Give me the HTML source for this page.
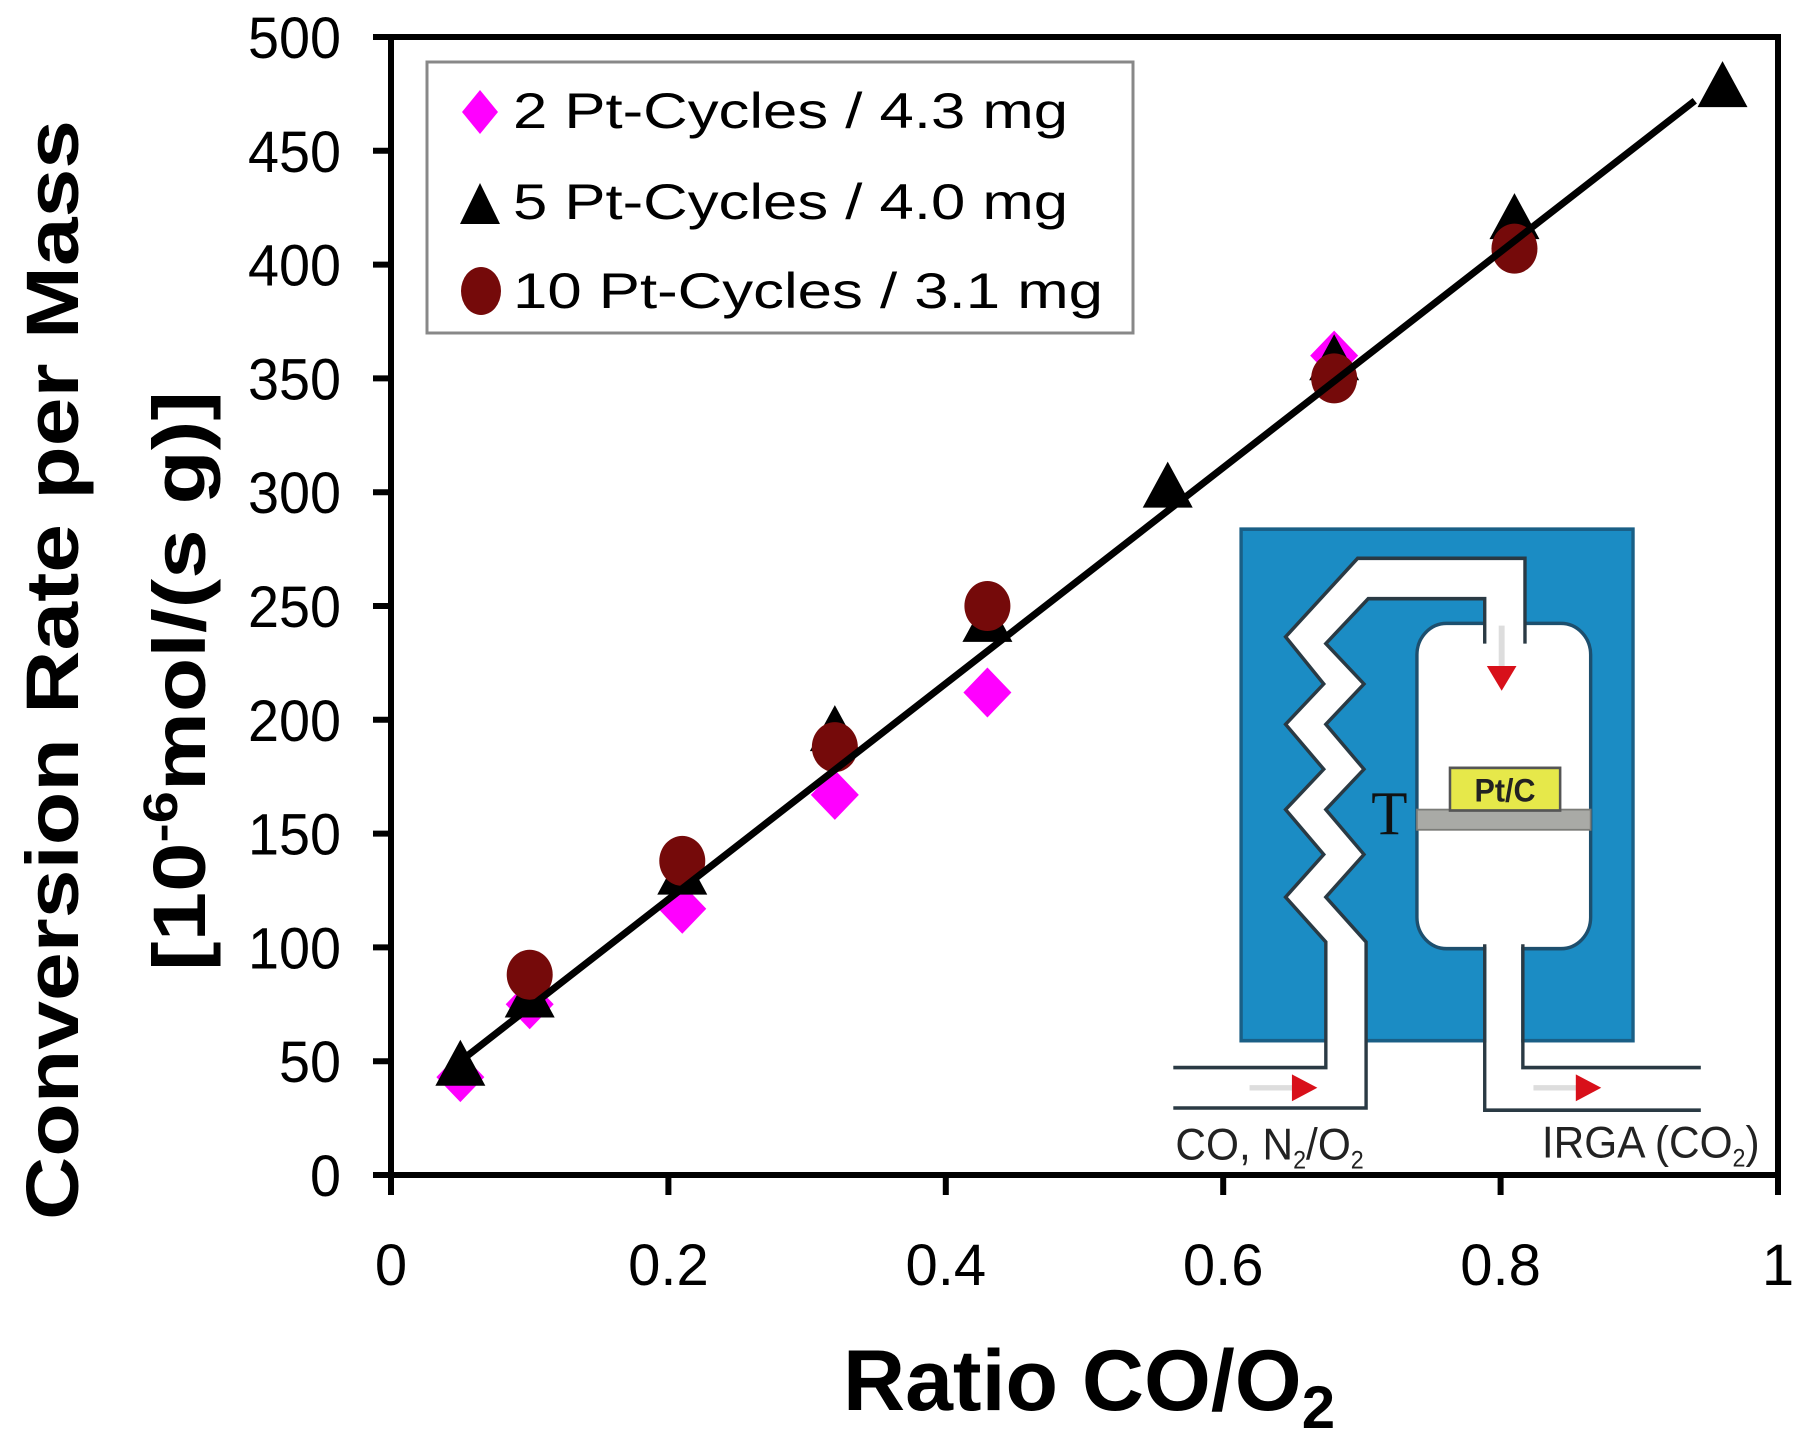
<!DOCTYPE html>
<html><head><meta charset="utf-8"><style>
html,body{margin:0;padding:0;background:#fff;}
svg{display:block;}
text{font-family:"Liberation Sans",Arial,sans-serif;}
</style></head><body>
<svg id="chart" width="1811" height="1436" viewBox="0 0 1811 1436" xmlns="http://www.w3.org/2000/svg">
<g id="inset" transform="translate(1150 500) scale(0.4237 0.4487)">
  <rect x="215" y="65" width="925" height="1140" fill="#1b8cc4" stroke="#1a5f86" stroke-width="8"/>
  <rect x="630" y="275" width="410" height="725" rx="70" fill="#fff" stroke="#1d4f6e" stroke-width="8"/>
  <path d="M415 1265 L415 985 L320 885 L410 790 L320 690 L410 600 L320 500 L410 410 L320 305 L490 130 L885 130 L885 320 L790 320 L790 220 L515 220 L415 320 L505 410 L415 500 L505 600 L415 690 L505 790 L415 885 L510 985 L510 1355 L55 1355 L55 1265 Z" fill="#fff" stroke="none"/>
  <polyline points="55,1265 415,1265 415,985 320,885 410,790 320,690 410,600 320,500 410,410 320,305 490,130 885,130 885,320" fill="none" stroke="#2a3a44" stroke-width="8"/>
  <polyline points="790,320 790,220 515,220 415,320 505,410 415,500 505,600 415,690 505,790 415,885 510,985 510,1355 55,1355" fill="none" stroke="#2a3a44" stroke-width="8"/>
  <rect x="794" y="990" width="82" height="370" fill="#fff"/>
  <polyline points="790,990 790,1360 1300,1360" fill="none" stroke="#2a3a44" stroke-width="8"/>
  <polyline points="880,990 880,1265 1300,1265" fill="none" stroke="#2a3a44" stroke-width="8"/>
  <rect x="630" y="690" width="410" height="45" fill="#a9aaa6" stroke="#7b7c78" stroke-width="4"/>
  <rect x="708" y="597" width="260" height="95" fill="#e6e84a" stroke="#555" stroke-width="6"/>
  <text x="838" y="672" font-size="72" font-weight="bold" text-anchor="middle" fill="#222">Pt/C</text>
  <text x="565" y="745" font-size="140" text-anchor="middle" fill="#111" style="font-family:'Liberation Serif',serif">T</text>
  <line x1="830" y1="280" x2="830" y2="370" stroke="#ddd" stroke-width="14"/>
  <polygon points="795,370 865,370 830,425" fill="#d8101a"/>
  <line x1="235" y1="1310" x2="340" y2="1310" stroke="#ddd" stroke-width="12"/>
  <polygon points="335,1280 395,1310 335,1340" fill="#d8101a"/>
  <line x1="905" y1="1310" x2="1010" y2="1310" stroke="#ddd" stroke-width="12"/>
  <polygon points="1005,1280 1065,1310 1005,1340" fill="#d8101a"/>
  <text x="60" y="1470" font-size="100" fill="#222">CO, N<tspan font-size="55" dy="20">2</tspan><tspan dy="-20">/O</tspan><tspan font-size="55" dy="20">2</tspan></text>
  <text x="925" y="1465" font-size="100" fill="#222">IRGA (CO<tspan font-size="55" dy="20">2</tspan><tspan dy="-20">)</tspan></text>
</g>
<g id="axes"></g>
<g id="marks"></g>
<g id="legend">
  <rect x="427" y="62" width="706" height="271" fill="none" stroke="#888" stroke-width="3"/>
  <polygon points="480,90 498,112 480,134 462,112" fill="#ff00ff"/>
  <text x="513" y="128" font-size="50" textLength="555" lengthAdjust="spacingAndGlyphs">2 Pt-Cycles / 4.3 mg</text>
  <polygon points="480,183 500,224 460,224" fill="#000"/>
  <text x="513" y="219" font-size="50" textLength="555" lengthAdjust="spacingAndGlyphs">5 Pt-Cycles / 4.0 mg</text>
  <ellipse cx="481" cy="291" rx="20" ry="24" fill="#750a0a"/>
  <text x="513" y="308" font-size="50" textLength="590" lengthAdjust="spacingAndGlyphs">10 Pt-Cycles / 3.1 mg</text>
</g>
<text transform="translate(78 670) rotate(-90)" text-anchor="middle" font-size="74" font-weight="bold" textLength="1100" lengthAdjust="spacingAndGlyphs">Conversion Rate per Mass</text>
<text transform="translate(205 681) rotate(-90)" text-anchor="middle" font-size="74" font-weight="bold" textLength="580" lengthAdjust="spacingAndGlyphs">[10<tspan font-size="48" dy="-28">-6</tspan><tspan dy="28">mol/(s g)]</tspan></text>
<text x="843" y="1410" font-size="86" font-weight="bold">Ratio CO/O<tspan font-size="60" dy="18">2</tspan></text>
</svg>
<script>
const xTicks=[0,0.2,0.4,0.6,0.8,1];
const xTickLabels=["0","0.2","0.4","0.6","0.8","1"];
const yTicks=[0,50,100,150,200,250,300,350,400,450,500];
const diamondX=[0.05,0.10,0.21,0.32,0.43,0.68];
const diamondY=[43,75,117,167,212,360];
const triangleX=[0.05,0.10,0.21,0.32,0.43,0.56,0.68,0.81,0.96];
const triangleY=[48,78,132,195,243,302,358,420,478];
const circleX=[0.10,0.21,0.32,0.43,0.68,0.81];
const circleY=[88,138,188,250,350,407];
const fitX=[0.05,0.94];
const fitY=[50,472];

const NS="http://www.w3.org/2000/svg";
const L=391,R=1778,T=37,B=1175;
const sx=v=>L+(R-L)*v;
const sy=v=>B-(B-T)*v/500;
function mk(tag,attrs,parent){const e=document.createElementNS(NS,tag);for(const k in attrs)e.setAttribute(k,attrs[k]);parent.appendChild(e);return e;}
const axes=document.getElementById('axes'),marks=document.getElementById('marks');

const frame=mk('rect',{x:L,y:T,width:R-L,height:B-T,fill:'none',stroke:'#000','stroke-width':6},axes);


yTicks.forEach(v=>{
  const t=mk('line',{x1:L-18,x2:L,y1:sy(v),y2:sy(v),stroke:'#000','stroke-width':6},axes);
  
  
  const lb=mk('text',{x:341,y:sy(v)+21,'text-anchor':'end','font-size':58,textLength:String(v).length*31,lengthAdjust:'spacingAndGlyphs'},axes);
  lb.textContent=v;
  
  
});
xTicks.forEach((v,i)=>{
  const t=mk('line',{x1:sx(v),x2:sx(v),y1:B,y2:B+20,stroke:'#000','stroke-width':6},axes);
  
  
  const lb=mk('text',{x:sx(v),y:1285,'text-anchor':'middle','font-size':58},axes);
  lb.textContent=xTickLabels[i];
  
  
});
diamondX.forEach((x,i)=>{
  const cx=sx(x),cy=sy(diamondY[i]);
  const d=mk('polygon',{points:`${cx},${cy-25} ${cx+24},${cy} ${cx},${cy+25} ${cx-24},${cy}`,fill:'#ff00ff'},marks);
  
  
});
triangleX.forEach((x,i)=>{
  const cx=sx(x),cy=sy(triangleY[i]);
  const t=mk('polygon',{points:`${cx},${cy-26} ${cx+25},${cy+20} ${cx-25},${cy+20}`,fill:'#000'},marks);
  
  
});
circleX.forEach((x,i)=>{
  const c=mk('ellipse',{cx:sx(x),cy:sy(circleY[i]),rx:23,ry:25,fill:'#750a0a'},marks);
  
  
});
const fit=mk('line',{x1:sx(fitX[0]),y1:sy(fitY[0]),x2:sx(fitX[1]),y2:sy(fitY[1]),stroke:'#000','stroke-width':7},marks);


</script>
</body></html>
